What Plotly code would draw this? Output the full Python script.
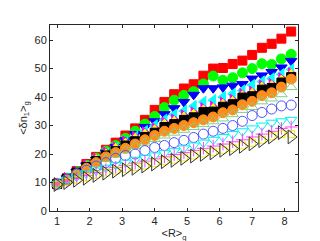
import plotly.graph_objects as go

# <R>_g sample points
R_g = [1.0, 1.3, 1.6, 1.9, 2.2, 2.5, 2.8, 3.1, 3.4, 3.7, 4.0, 4.3, 4.6,
       4.9, 5.2, 5.5, 5.8, 6.1, 6.4, 6.7, 7.0, 7.3, 7.6, 7.9, 8.2]

red_sq = [9.5, 11.5, 14, 16.5, 19, 21.5, 24, 26.5, 29, 32, 35.5, 38.3, 41,
          43, 44.5, 47.5, 50, 50.2, 51.6, 52.8, 54.8, 57.3, 58.7, 60.5, 63]
green_o = [9.5, 11.5, 13.8, 16, 18.5, 21, 23, 25.5, 28, 30.5, 33.2, 36.3, 38.9,
           40.6, 41.9, 44.6, 47.4, 45.9, 46.8, 48.5, 50, 51.7, 51.4, 53.4, 55]
blue_v = [9.5, 11.5, 13.8, 16, 18, 20.5, 22.5, 24.8, 27, 29.5, 31.5, 34, 36.1,
          38.3, 40.8, 43.1, 43.1, 43.4, 44, 44.6, 46.5, 47.6, 48.8, 50.4, 52.7]
cyan_l = [9.5, 11.3, 13.5, 15.6, 17.8, 20, 22, 24, 26, 28, 30, 32, 33.8,
          35.1, 36.8, 38.3, 38.9, 40, 41.1, 42.3, 44.2, 45.4, 46.5, 48, 49.7]
black_sq = [9.5, 11.3, 13.5, 15.5, 17.5, 19.5, 21, 23, 24.5, 26, 27.5, 29.5, 30.5,
            32, 32.9, 34.7, 34.9, 36.6, 37.5, 39.8, 40.3, 42.6, 43.2, 45.1, 47]
magenta_r = [9.5, 11.5, 13.8, 16, 18.3, 20.5, 22.3, 24.3, 26, 27.5, 29, 31, 32,
             33.5, 34.5, 36, 36.5, 38, 39, 41, 41.8, 44, 44.5, 46.5, 48.3]
yellow_t = [9.5, 11.4, 13.6, 15.8, 18, 20, 22, 23.8, 25.5, 27, 28.5, 30.5, 31.5,
            33, 34, 35.5, 36, 37.5, 38.5, 40.5, 41.3, 43.5, 44, 46, 48]
orange_o = [9.5, 11, 13, 15, 17, 19, 20.5, 22, 23.5, 25, 26.5, 28, 29,
            30, 31, 32, 33, 34.5, 35.5, 37.3, 38.5, 40.5, 41.5, 43.5, 46.3]
lgreen_t = [9.5, 11, 12.8, 14.7, 16.5, 18.3, 19.8, 21.3, 22.8, 24, 25.3, 26.5, 27.5,
            28.5, 29.5, 30.5, 31.5, 32.5, 34, 35.5, 36.5, 38.5, 39.5, 41, 43.5]
blue_oo = [9.5, 11.2, 13, 14.3, 15.8, 17, 18.5, 19.5, 20, 21.2, 22.3, 23, 24,
           24.8, 25.8, 27, 28, 29, 30, 31.5, 33.5, 34.6, 35.8, 36.9, 37.2]
cyan_ov = [9.5, 10.8, 12, 13.2, 14.2, 15.2, 16.2, 17, 18, 18.7, 19.5, 20.3, 21,
           22, 23, 24, 25, 26, 27, 28, 29, 30, 31, 31.5, 32]
magenta_p = [9.5, 10.5, 11.5, 12.5, 13.5, 14.5, 15.3, 16, 16.8, 17.5, 18.3, 19, 19.8,
             20.5, 21.3, 22, 22.8, 23.5, 24.3, 25, 26, 27, 28, 29, 29.5]
yellow_os = [9.3, 10.2, 11, 11.8, 12.7, 13.5, 14.2, 14.8, 15.4, 16, 16.8, 17.5, 18,
             18.8, 19.5, 20.2, 20.8, 21.5, 22.2, 23, 24, 25, 26.2, 27, 27]
black_tr = [9.3, 10, 10.8, 11.5, 12.5, 13.3, 14, 14.5, 15, 15.8, 16.5, 17.3, 17.8,
            18.5, 19.3, 19.9, 20.4, 21.3, 21.9, 22.7, 23.6, 24.7, 26, 27.5, 26]

# (values, symbol, colour, size)
series = [
    (red_sq, "square", "#ff0000", 9),
    (green_o, "circle", "#00ff00", 10),
    (blue_v, "triangle-down", "#0000ff", 10),
    (cyan_l, "triangle-left", "#00ffff", 10),
    (magenta_r, "triangle-right", "#ff00ff", 10),
    (yellow_t, "triangle-up", "#ffff00", 10),
    (black_sq, "square", "#000000", 9),
    (orange_o, "circle", "#ff8c1a", 10),
    (lgreen_t, "triangle-up-open", "#7fd07f", 10),
    (blue_oo, "circle-open", "#5050ff", 10),
    (cyan_ov, "triangle-down-open", "#00f0f0", 10),
    (magenta_p, "cross-thin-open", "#ff40ff", 9),
    (yellow_os, "square-open", "#f0f000", 7),
    (black_tr, "triangle-right-open", "#333333", 12),
]

fig = go.Figure()
for vals, sym, col, sz in series:
    fig.add_trace(go.Scatter(
        x=R_g, y=vals, mode="markers",
        marker=dict(symbol=sym, size=sz, color=col, line=dict(width=1, color=col)),
        showlegend=False))

axis_style = dict(showline=True, linecolor="#262626", linewidth=1, mirror="ticks",
                  ticks="inside", ticklen=3, tickcolor="#262626", showgrid=False,
                  zeroline=False, tickfont=dict(family="Liberation Sans, Arial", size=11, color="#262626"))

fig.update_xaxes(range=[0.78, 8.41], tickvals=[1, 2, 3, 4, 5, 6, 7, 8],
                 title=dict(text="&lt;R&gt;<sub>g</sub>", standoff=2,
                            font=dict(family="Liberation Sans, Arial", size=11, color="#262626")),
                 **axis_style)
fig.update_yaxes(range=[0, 65.3], tickvals=[0, 10, 20, 30, 40, 50, 60],
                 title=dict(text="&lt;δn<sub>1</sub>&gt;<sub>g</sub>", standoff=4,
                            font=dict(family="Liberation Sans, Arial", size=11, color="#262626")),
                 **axis_style)

fig.update_layout(width=320, height=241, margin=dict(l=42, r=30, t=17, b=32),
                  plot_bgcolor="white", paper_bgcolor="white")

fig.write_html("out.html")
